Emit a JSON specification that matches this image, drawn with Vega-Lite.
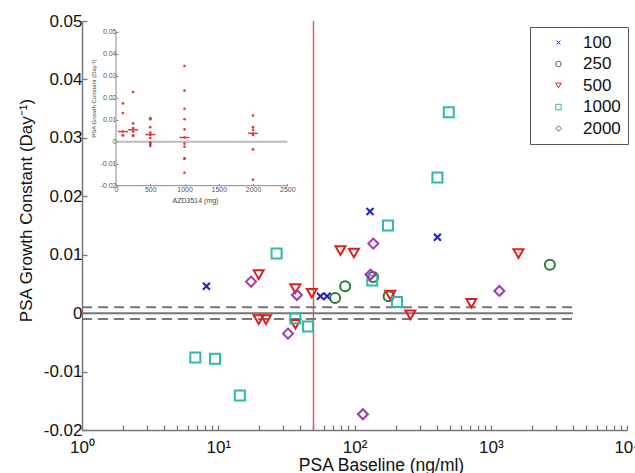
{
  "$schema": "https://vega.github.io/schema/vega-lite/v6.json",
  "width": 545,
  "height": 409,
  "autosize": {"type": "none"},
  "padding": {"left": 82, "top": 21, "right": 8, "bottom": 43},
  "background": "white",
  "config": {"view": {"stroke": null}, "font": "Liberation Sans", "axis": {"grid": false}},
  "datasets": {
    "pts": [
      {"dose": 100, "baseline": 8.19, "k": 0.0046},
      {"dose": 100, "baseline": 56.2, "k": 0.0029},
      {"dose": 100, "baseline": 62.9, "k": 0.0029},
      {"dose": 100, "baseline": 129.9, "k": 0.0174},
      {"dose": 100, "baseline": 406, "k": 0.0130},
      {"dose": 250, "baseline": 72.1, "k": 0.0026},
      {"dose": 250, "baseline": 85.4, "k": 0.0046},
      {"dose": 250, "baseline": 137, "k": 0.0062},
      {"dose": 250, "baseline": 178, "k": 0.0029},
      {"dose": 250, "baseline": 2715, "k": 0.0083},
      {"dose": 250, "baseline": null, "k": 0.0226},
      {"dose": 500, "baseline": 19.8, "k": 0.0066},
      {"dose": 500, "baseline": 36.8, "k": 0.0042},
      {"dose": 500, "baseline": 48.6, "k": 0.0034},
      {"dose": 500, "baseline": 78.9, "k": 0.0107},
      {"dose": 500, "baseline": 99, "k": 0.0103},
      {"dose": 500, "baseline": 19.8, "k": -0.0011},
      {"dose": 500, "baseline": 22.4, "k": -0.0011},
      {"dose": 500, "baseline": 36.8, "k": -0.0019},
      {"dose": 500, "baseline": 1597, "k": 0.0102},
      {"dose": 500, "baseline": 183, "k": 0.0031},
      {"dose": 500, "baseline": 257, "k": -0.0003},
      {"dose": 500, "baseline": 720, "k": 0.0017},
      {"dose": 1000, "baseline": 26.8, "k": 0.0102},
      {"dose": 1000, "baseline": 36.8, "k": -0.0009},
      {"dose": 1000, "baseline": 45.6, "k": -0.0023},
      {"dose": 1000, "baseline": 6.79, "k": -0.0076},
      {"dose": 1000, "baseline": 9.47, "k": -0.0078},
      {"dose": 1000, "baseline": 14.4, "k": -0.0141},
      {"dose": 1000, "baseline": 492, "k": 0.0344},
      {"dose": 1000, "baseline": 406, "k": 0.0232},
      {"dose": 1000, "baseline": 176, "k": 0.0150},
      {"dose": 1000, "baseline": 135, "k": 0.0056},
      {"dose": 1000, "baseline": 205, "k": 0.0019},
      {"dose": 2000, "baseline": 17.4, "k": 0.0054},
      {"dose": 2000, "baseline": 37.8, "k": 0.0031},
      {"dose": 2000, "baseline": 32.5, "k": -0.0035},
      {"dose": 2000, "baseline": 115.3, "k": -0.0173},
      {"dose": 2000, "baseline": 137.3, "k": 0.0119},
      {"dose": 2000, "baseline": 131.2, "k": 0.0066},
      {"dose": 2000, "baseline": 1157, "k": 0.0038}
    ]
  },
  "layer": [
    {
      "layer": [
        {
          "data": {"values": [{}]},
          "mark": {"type": "rule", "color": "#bbbbbb", "strokeWidth": 2},
          "encoding": {
            "x": {"datum": 0, "type": "quantitative", "scale": {"domain": [-496.2, 7457.6], "nice": false, "zero": false}},
            "x2": {"datum": 2500},
            "y": {"datum": 0, "type": "quantitative", "scale": {"domain": [-0.131045, 0.054864], "nice": false, "zero": false}}
          }
        },
        {
          "data": {"values": [{}]},
          "mark": {"type": "rule", "color": "#888888", "strokeWidth": 1},
          "encoding": {
            "x": {"datum": 0, "type": "quantitative", "scale": {"domain": [-496.2, 7457.6], "nice": false, "zero": false}},
            "x2": {"datum": 2500},
            "y": {"datum": -0.02, "type": "quantitative", "scale": {"domain": [-0.131045, 0.054864], "nice": false, "zero": false}}
          }
        },
        {
          "data": {"values": [{}]},
          "mark": {"type": "rule", "color": "#888888", "strokeWidth": 1},
          "encoding": {
            "x": {"datum": 0, "type": "quantitative", "scale": {"domain": [-496.2, 7457.6], "nice": false, "zero": false}},
            "y": {"datum": -0.02, "type": "quantitative", "scale": {"domain": [-0.131045, 0.054864], "nice": false, "zero": false}},
            "y2": {"datum": 0.05}
          }
        },
        {
          "data": {"name": "pts"},
          "mark": {"type": "point", "filled": true, "size": 7, "color": "#e03a3a", "opacity": 1},
          "encoding": {
            "x": {
              "field": "dose", "type": "quantitative",
              "scale": {"domain": [-496.2, 7457.6], "nice": false, "zero": false},
              "axis": {
                "orient": "bottom",
                "values": [0, 500, 1000, 1500, 2000, 2500],
                "offset": -244.3,
                "domain": false,
                "tickSize": -2,
                "tickColor": "#888888",
                "labelFontSize": 7,
                "labelColor": "#555555",
                "labelPadding": 2,
                "labelFlush": false,
                "labelOverlap": false,
                "format": "d",
                "title": "AZD3514 (mg)",
                "titleFontSize": 7,
                "titleFontWeight": "normal",
                "titleColor": "#444444",
                "titleX": 113,
                "titleY": 17,
                "titleBaseline": "alphabetic"
              }
            },
            "y": {
              "field": "k", "type": "quantitative",
              "scale": {"domain": [-0.131045, 0.054864], "nice": false, "zero": false},
              "axis": {
                "orient": "left",
                "values": [-0.02, -0.01, 0, 0.01, 0.02, 0.03, 0.04, 0.05],
                "offset": -34,
                "domain": false,
                "tickSize": -2,
                "tickColor": "#888888",
                "labelFontSize": 7,
                "labelColor": "#555555",
                "labelPadding": 2,
                "labelOverlap": false,
                "labelExpr": "datum.value == 0 ? '0' : (datum.value < 0 ? '-' + format(-datum.value, '.2f') : format(datum.value, '.2f'))",
                "title": "PSA Growth Constant (Day⁻¹)",
                "titleFontSize": 6,
                "titleFontWeight": "normal",
                "titleColor": "#444444",
                "titleX": -23,
                "titleY": 77,
                "titleAngle": -90,
                "titleAlign": "center",
                "titleBaseline": "middle"
              }
            }
          }
        },
        {
          "data": {"name": "pts"},
          "mark": {"type": "tick", "orient": "horizontal", "size": 10, "thickness": 1.5, "color": "#e03a3a", "opacity": 1},
          "encoding": {
            "x": {"field": "dose", "type": "quantitative", "scale": {"domain": [-496.2, 7457.6], "nice": false, "zero": false}},
            "y": {"aggregate": "median", "field": "k", "type": "quantitative", "scale": {"domain": [-0.131045, 0.054864], "nice": false, "zero": false}}
          }
        }
      ]
    },
    {
      "layer": [
        {
          "data": {"values": [{}]},
          "mark": {"type": "rule", "color": "#d9605a", "strokeWidth": 1.5},
          "encoding": {
            "x": {"datum": 50, "type": "quantitative", "scale": {"type": "log", "domain": [1, 10000], "nice": false}}
          }
        },
        {
          "data": {"values": [{}]},
          "mark": {"type": "rule", "color": "#777777", "strokeWidth": 2},
          "encoding": {
            "x": {"datum": 1, "type": "quantitative", "scale": {"type": "log", "domain": [1, 10000], "nice": false}},
            "x2": {"datum": 4000},
            "y": {"datum": 0, "type": "quantitative", "scale": {"domain": [-0.02, 0.05], "nice": false, "zero": false}}
          }
        },
        {
          "data": {"values": [{}]},
          "mark": {"type": "rule", "color": "#777777", "strokeWidth": 2, "strokeDash": [10, 6]},
          "encoding": {
            "x": {"datum": 1, "type": "quantitative", "scale": {"type": "log", "domain": [1, 10000], "nice": false}},
            "x2": {"datum": 4000},
            "y": {"datum": 0.001, "type": "quantitative", "scale": {"domain": [-0.02, 0.05], "nice": false, "zero": false}}
          }
        },
        {
          "data": {"values": [{}]},
          "mark": {"type": "rule", "color": "#777777", "strokeWidth": 2, "strokeDash": [10, 6]},
          "encoding": {
            "x": {"datum": 1, "type": "quantitative", "scale": {"type": "log", "domain": [1, 10000], "nice": false}},
            "x2": {"datum": 4000},
            "y": {"datum": -0.001, "type": "quantitative", "scale": {"domain": [-0.02, 0.05], "nice": false, "zero": false}}
          }
        },
        {
          "data": {"name": "pts"},
          "transform": [{"filter": "datum.baseline != null"}],
          "mark": {"type": "point", "filled": false, "size": 100, "strokeWidth": 2, "opacity": 1},
          "encoding": {
            "x": {
              "field": "baseline", "type": "quantitative",
              "scale": {"type": "log", "domain": [1, 10000], "nice": false},
              "axis": {
                "orient": "bottom",
                "values": [1,2,3,4,5,6,7,8,9,10,20,30,40,50,60,70,80,90,100,200,300,400,500,600,700,800,900,1000,2000,3000,4000,5000,6000,7000,8000,9000,10000],
                "labelExpr": "datum.value == 1 ? '10⁰' : datum.value == 10 ? '10¹' : datum.value == 100 ? '10²' : datum.value == 1000 ? '10³' : datum.value == 10000 ? '10⁴' : ''",
                "tickSize": -5,
                "tickColor": "#777777",
                "tickWidth": 1.3,
                "domainColor": "#777777",
                "domainWidth": 1.5,
                "labelFontSize": 17,
                "labelColor": "#111111",
                "labelPadding": 14,
                "labelFlush": false,
                "labelOverlap": false,
                "title": "PSA Baseline (ng/ml)",
                "titleFontSize": 17.5,
                "titleFontWeight": "normal",
                "titleColor": "#111111",
                "titleX": 299,
                "titleY": 40,
                "titleBaseline": "alphabetic"
              }
            },
            "y": {
              "field": "k", "type": "quantitative",
              "scale": {"domain": [-0.02, 0.05], "nice": false, "zero": false},
              "axis": {
                "orient": "left",
                "values": [-0.02, -0.01, 0, 0.01, 0.02, 0.03, 0.04, 0.05],
                "labelExpr": "datum.value == 0 ? '0' : (datum.value < 0 ? '-' + format(-datum.value, '.2f') : format(datum.value, '.2f'))",
                "tickSize": -5,
                "tickColor": "#777777",
                "tickWidth": 1.3,
                "domainColor": "#777777",
                "domainWidth": 1.5,
                "labelFontSize": 17,
                "labelColor": "#111111",
                "labelPadding": 5,
                "labelOverlap": false,
                "title": "PSA Growth Constant (Day⁻¹)",
                "titleFontSize": 17,
                "titleFontWeight": "normal",
                "titleColor": "#111111",
                "titleX": -56,
                "titleY": 189,
                "titleAngle": -90,
                "titleAlign": "center",
                "titleBaseline": "middle"
              }
            },
            "color": {
              "field": "dose", "type": "nominal",
              "scale": {"domain": [100, 250, 500, 1000, 2000], "range": ["#1f1fbf", "#2e7a2e", "#e02020", "#30b8b0", "#a035b5"]},
              "legend": {
                "title": null,
                "orient": "none",
                "legendX": 448,
                "legendY": 6,
                "strokeColor": "#555555",
                "fillColor": "white",
                "padding": 7,
                "symbolOffset": 13,
                "labelOffset": 16,
                "labelFontSize": 17,
                "labelColor": "#111111",
                "symbolSize": 30,
                "symbolStrokeWidth": 1,
                "rowPadding": 3.5
              }
            },
            "shape": {
              "field": "dose", "type": "nominal",
              "scale": {"domain": [100, 250, 500, 1000, 2000], "range": ["M-0.7,-0.7L0.7,0.7M-0.7,0.7L0.7,-0.7", "circle", "triangle-down", "square", "diamond"]}
            }
          }
        }
      ]
    }
  ],
  "resolve": {
    "scale": {"x": "independent", "y": "independent"},
    "axis": {"x": "independent", "y": "independent"}
  }
}
